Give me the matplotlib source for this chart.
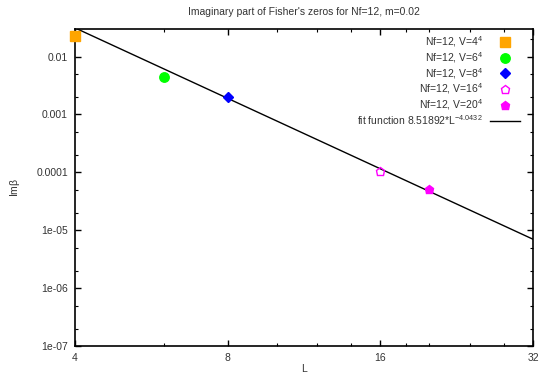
import matplotlib
matplotlib.use("Agg")
import matplotlib.pyplot as plt
from matplotlib.ticker import LogLocator, FixedLocator, NullFormatter, FixedFormatter
import numpy as np

plt.rcParams['font.family'] = ['Liberation Sans', 'DejaVu Sans']
plt.rcParams['mathtext.default'] = 'regular'
plt.rcParams['font.size'] = 7.5

# data
L_vals = [4, 6, 8, 16, 20]
im_beta = [0.023, 0.0045, 0.00199, 0.000106, 0.000051]
labels = ['Nf=12, V=$4^4$', 'Nf=12, V=$6^4$', 'Nf=12, V=$8^4$',
          'Nf=12, V=$16^4$', 'Nf=12, V=$20^4$']
markers = ['s', 'o', 'D', 'p', 'p']
colors = ['#ffa500', '#00ff00', '#0000ff', '#ff00ff', '#ff00ff']
filled = [True, True, True, False, True]
sizes = [7.2, 6.8, 4.8, 6.3, 6.3]

# fit function a*L^b
fit_a = 8.51892
fit_b = -4.0432
fit_L = np.array([4.0, 32.0])

x_major = [4, 8, 16, 32]
x_minor = [6, 10, 12, 14, 18, 20, 24, 28]
y_ticks = [1e-7, 1e-6, 1e-5, 1e-4, 1e-3, 1e-2]
y_ticklabels = ['1e-07', '1e-06', '1e-05', '0.0001', '0.001', '0.01']

fig = plt.figure(figsize=(5.4, 3.76), dpi=100)
ax = fig.add_axes([75/540, 1-346/376, 458/540, 317/376])

ax.plot(fit_L, fit_a*fit_L**fit_b, color='black', lw=1.0, zorder=2)

for L, v, m, c, f, s in zip(L_vals, im_beta, markers, colors, filled, sizes):
    ax.plot([L], [v], marker=m, color=c, ms=s, mec=c, mew=1.0,
            mfc=c if f else 'none', ls='none', clip_on=False, zorder=3)

ax.set_xscale('log')
ax.set_yscale('log')
ax.set_xlim(4, 32)
ax.set_ylim(1e-7, 0.03)

ax.xaxis.set_major_locator(FixedLocator(x_major))
ax.xaxis.set_major_formatter(FixedFormatter([str(v) for v in x_major]))
ax.xaxis.set_minor_locator(FixedLocator(x_minor))
ax.xaxis.set_minor_formatter(NullFormatter())
ax.yaxis.set_major_locator(FixedLocator(y_ticks))
ax.yaxis.set_major_formatter(FixedFormatter(y_ticklabels))
ax.yaxis.set_minor_locator(LogLocator(base=10, subs=(2, 5)))
ax.yaxis.set_minor_formatter(NullFormatter())

ax.tick_params(which='both', direction='in', top=True, right=True,
               color='black', labelcolor='#333333')
ax.tick_params(which='major', length=4, width=1.0, pad=5)
ax.tick_params(which='minor', length=2.5, width=0.8)
for sp in ax.spines.values():
    sp.set_linewidth(1.2)

ax.set_title("Imaginary part of Fisher's zeros for Nf=12, m=0.02",
             fontsize=7.5, color='#333333', pad=10)
ax.set_xlabel('L', color='#333333', labelpad=1)
ax.set_ylabel(r'Im$\beta$', color='#333333', labelpad=10)

# key, drawn row by row like the gnuplot one
row_h = 15.7/317
top = 1 - 13/317
for i, (lab, m, c, f, s) in enumerate(zip(labels, markers, colors, filled, sizes)):
    y = top - i*row_h
    ax.text(408/458, y, lab, transform=ax.transAxes, ha='right', va='center',
            color='#333333')
    ax.plot([430/458], [y], marker=m, color=c, ms=s, mec=c,
            mfc=c if f else 'none', transform=ax.transAxes, clip_on=False)
y = top - 5*row_h
ax.text(408/458, y, 'fit function 8.51892*L$^{-4.0432}$', transform=ax.transAxes,
        ha='right', va='center', color='#333333')
ax.plot([415/458, 445/458], [y, y], color='black', lw=1.0,
        transform=ax.transAxes)

fig.savefig('out.png', dpi=100)
